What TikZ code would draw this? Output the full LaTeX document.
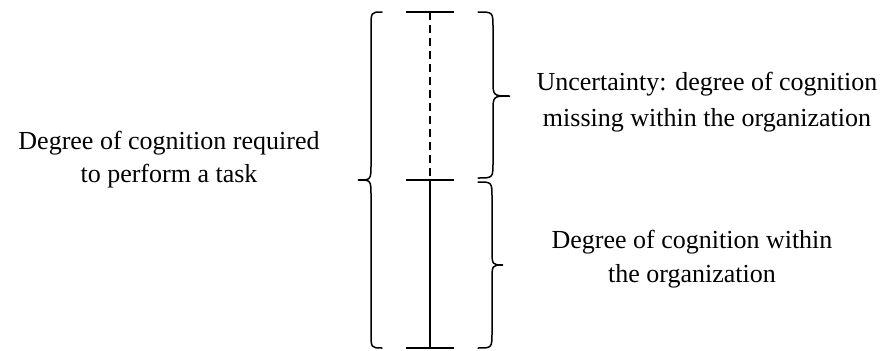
\documentclass[tikz,border=0pt]{standalone}
\usepackage{fontspec}
\setmainfont{Liberation Serif}
\begin{document}
\begin{tikzpicture}[x=1pt,y=-1pt,
  lbl/.style={align=center,inner sep=0pt,font=\fontsize{26}{33}\selectfont},
  ln/.style={line width=1.5pt},
  brc/.style={line width=1.5pt,line cap=round}]
\useasboundingbox (0,0) rectangle (895,351);
\coordinate (top) at (430,12);
\coordinate (mid) at (430,180);
\coordinate (bot) at (430,348);
% bars
\draw[ln] (406,12) -- (454,12);
\draw[ln] (406,180) -- (454,180);
\draw[ln] (406,348) -- (454,348);
\draw[ln,dash pattern=on 8pt off 5pt] (top) -- (mid);
\draw[ln] (mid) -- (bot);
% left brace
\draw[brc] (382,12) .. controls (371,12) .. (371,28) -- (371,164)
  .. controls (371,180) .. (358,180) .. controls (371,180) .. (371,196)
  -- (371,332) .. controls (371,348) .. (382,348);
% upper right brace
\draw[brc] (478,12) .. controls (493,12) .. (493,28) -- (493,80)
  .. controls (493,96) .. (510,96) .. controls (493,96) .. (493,112)
  -- (493,162) .. controls (493,178) .. (478,178);
% lower right brace
\draw[brc] (478,182) .. controls (492,182) .. (492,198) -- (492,249)
  .. controls (492,265) .. (503,265) .. controls (492,265) .. (492,281)
  -- (492,332) .. controls (492,348) .. (478,348);
% labels
\node[lbl] (req) at (169,160) {Degree of cognition required\\to perform a task};
\node[lbl,font=\fontsize{26}{36}\selectfont] (unc) at (707,102) {Uncertainty: degree of cognition\\missing within the organization};
\node[lbl,font=\fontsize{26}{34}\selectfont] (within) at (692,259) {Degree of cognition within\\the organization};
\end{tikzpicture}
\end{document}
